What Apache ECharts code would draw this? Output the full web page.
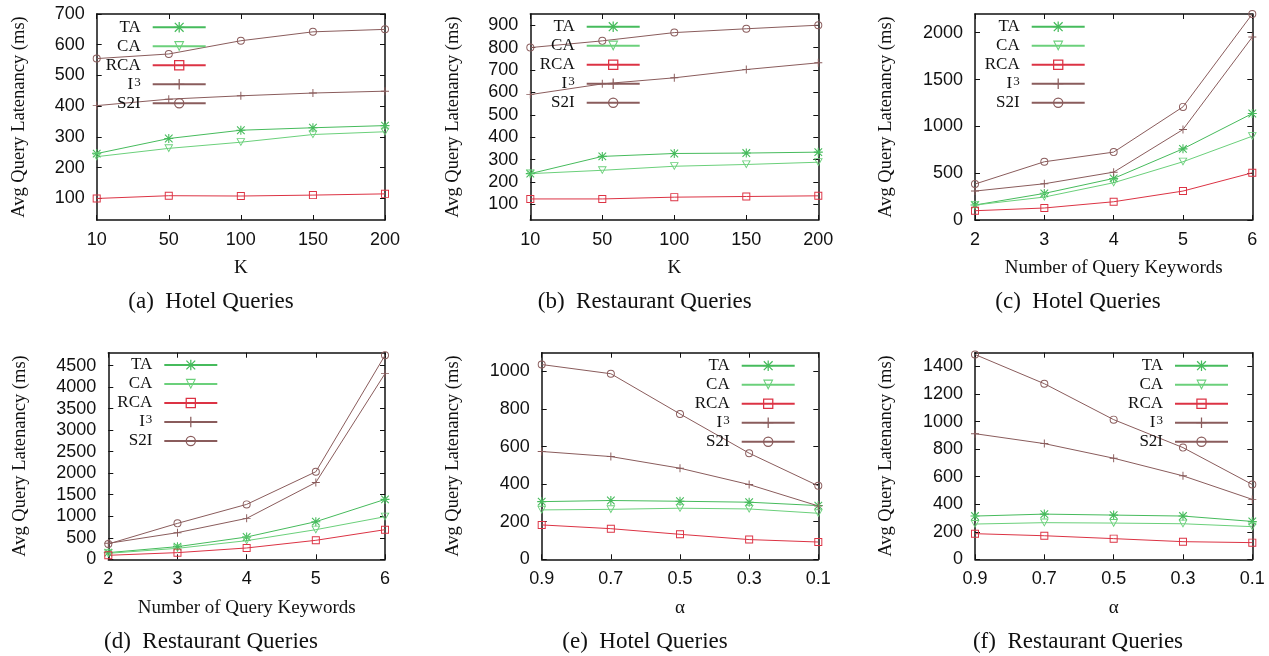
<!DOCTYPE html>
<html>
<head>
<meta charset="utf-8">
<script src="https://cdn.jsdelivr.net/npm/echarts@6/dist/echarts.min.js"></script>
<style>
html, body { margin: 0; padding: 0; background: #fff; }
#main { width: 1269px; height: 656px; }
</style>
</head>
<body>
<div id="main"></div>
<script>
// x categories
var kCats = ['10', '50', '100', '150', '200'];
var kwCats = ['2', '3', '4', '5', '6'];
var alphaCats = ['0.9', '0.7', '0.5', '0.3', '0.1'];

// (a) hotel, varying K
var hotelK_TA = [246, 295, 322, 330, 337];
var hotelK_CA = [236, 263, 283, 308, 317];
var hotelK_RCA = [100, 109, 108, 111, 115];
var hotelK_I3 = [402, 423, 434, 443, 449];
var hotelK_S2I = [555, 570, 613, 642, 650];

// (b) restaurant, varying K
var restK_TA = [237, 314, 327, 329, 333];
var restK_CA = [237, 252, 270, 278, 288];
var restK_RCA = [124, 124, 132, 135, 138];
var restK_I3 = [590, 638, 665, 702, 732];
var restK_S2I = [800, 830, 867, 884, 900];

// (c) hotel, number of keywords
var hotelKw_TA = [160, 284, 444, 760, 1137];
var hotelKw_CA = [160, 245, 398, 622, 895];
var hotelKw_RCA = [99, 128, 195, 309, 504];
var hotelKw_I3 = [309, 387, 511, 966, 1954];
var hotelKw_S2I = [384, 622, 725, 1208, 2200];

// (d) restaurant, number of keywords
var restKw_TA = [155, 294, 518, 874, 1392];
var restKw_CA = [139, 255, 433, 688, 990];
var restKw_RCA = [93, 155, 263, 441, 688];
var restKw_I3 = [371, 619, 951, 1786, 4314];
var restKw_S2I = [356, 835, 1276, 2034, 4740];

// (e) hotel, alpha
var hotelA_TA = [307, 313, 309, 304, 286];
var hotelA_CA = [263, 266, 272, 268, 245];
var hotelA_RCA = [183, 163, 133, 105, 92];
var hotelA_I3 = [574, 547, 485, 398, 284];
var hotelA_S2I = [1037, 988, 774, 565, 391];

// (f) restaurant, alpha
var restA_TA = [314, 328, 321, 314, 275];
var restA_CA = [256, 266, 263, 258, 237];
var restA_RCA = [186, 171, 150, 128, 121];
var restA_I3 = [912, 840, 734, 606, 435];
var restA_S2I = [1487, 1275, 1014, 811, 543];

// y tick labels
var ticksA = [100, 200, 300, 400, 500, 600, 700];
var ticksB = [100, 200, 300, 400, 500, 600, 700, 800, 900];
var ticksC = [0, 500, 1000, 1500, 2000];
var ticksD = [0, 500, 1000, 1500, 2000, 2500, 3000, 3500, 4000, 4500];
var ticksE = [0, 200, 400, 600, 800, 1000];
var ticksF = [0, 200, 400, 600, 800, 1000, 1200, 1400];

var names = ['TA', 'CA', 'RCA', 'I3', 'S2I'];
var colors = ['#46bb5c', '#6bd07b', '#dc3344', '#8a5c5c', '#8a5c5c'];

// marker shapes (outline shapes drawn as rings so lines show through)
var symStar = 'path://M4.4,0H5.6V10H4.4Z M0,4.4H10V5.6H0Z M0.35,1.2L1.2,0.35L9.65,8.8L8.8,9.65Z M8.8,0.35L9.65,1.2L1.2,9.65L0.35,8.8Z';
var symTri = 'path://M0,0L10,0L5,9Z M1.7,1L5,7L8.3,1Z';
var symRect = 'path://M0,0H10V10H0Z M1.2,1.2V8.8H8.8V1.2Z';
var symPlus = 'path://M4.4,0H5.6V10H4.4Z M0,4.4H10V5.6H0Z';
var symCircle = 'path://M5,0A5,5 0 1,1 5,10A5,5 0 1,1 5,0Z M5,1.2A3.8,3.8 0 1,0 5,8.8A3.8,3.8 0 1,0 5,1.2Z';
var symbols = [symStar, symTri, symRect, symPlus, symCircle];
var symSizes = [9, 9, 8, 8, 8];

var serif = 'Liberation Serif';
var sans = 'Liberation Sans';
var yName = 'Avg Query Latenancy (ms)';

var panels = [
    {left: 96.7, top: 14, right: 385, bottom: 220, cats: kCats, xName: 'K', min: 30, max: 700, ticks: ticksA,
        yGap: 68, legRight: 206.7, legRow: 27.3, caption: '(a)  Hotel Queries', capX: 211, capY: 301.7,
        data: [hotelK_TA, hotelK_CA, hotelK_RCA, hotelK_I3, hotelK_S2I]},
    {left: 530.3, top: 14, right: 818.3, bottom: 220, cats: kCats, xName: 'K', min: 30, max: 950, ticks: ticksB,
        yGap: 68, legRight: 640.7, legRow: 26.7, caption: '(b)  Restaurant Queries', capX: 644.7, capY: 301.7,
        data: [restK_TA, restK_CA, restK_RCA, restK_I3, restK_S2I]},
    {left: 975, top: 14, right: 1252.3, bottom: 220, cats: kwCats, xName: 'Number of Query Keywords', min: 0, max: 2200, ticks: ticksC,
        yGap: 79, legRight: 1085.7, legRow: 26.7, caption: '(c)  Hotel Queries', capX: 1078, capY: 301.7,
        data: [hotelKw_TA, hotelKw_CA, hotelKw_RCA, hotelKw_I3, hotelKw_S2I]},
    {left: 108.3, top: 352.7, right: 385, bottom: 559.3, cats: kwCats, xName: 'Number of Query Keywords', min: 0, max: 4800, ticks: ticksD,
        yGap: 79, legRight: 218.3, legRow: 365, caption: '(d)  Restaurant Queries', capX: 211, capY: 641.7,
        data: [restKw_TA, restKw_CA, restKw_RCA, restKw_I3, restKw_S2I]},
    {left: 541.7, top: 352.7, right: 818.3, bottom: 559.3, cats: alphaCats, xName: 'α', min: 0, max: 1100, ticks: ticksE,
        yGap: 79, legRight: 795.7, legRow: 365.7, caption: '(e)  Hotel Queries', capX: 645, capY: 641.7,
        data: [hotelA_TA, hotelA_CA, hotelA_RCA, hotelA_I3, hotelA_S2I]},
    {left: 975, top: 352.7, right: 1252.3, bottom: 559.3, cats: alphaCats, xName: 'α', min: 0, max: 1500, ticks: ticksF,
        yGap: 79, legRight: 1229, legRow: 365.7, caption: '(f)  Restaurant Queries', capX: 1078, capY: 641.7,
        data: [restA_TA, restA_CA, restA_RCA, restA_I3, restA_S2I]}
];

var boxLine = {show: true, onZero: false, lineStyle: {color: '#111', width: 1.5}};
var tickStyle = {color: '#111', width: 1};

// legend text: I3 gets a raised 3
function legendText(name) {
    if (name === 'I3') return '{n|I}{s|3}';
    return '{n|' + name + '}';
}

var grid = [], xAxis = [], yAxis = [], series = [], legend = [], graphic = [];

panels.forEach(function (p, i) {
    grid.push({left: p.left, top: p.top, width: p.right - p.left, height: p.bottom - p.top});

    xAxis.push({
        type: 'category', gridIndex: i, data: p.cats, boundaryGap: false, position: 'bottom',
        name: p.xName, nameLocation: 'middle', nameGap: 39,
        nameTextStyle: {fontFamily: serif, fontSize: 19, color: '#111'},
        axisLine: boxLine,
        axisTick: {show: true, inside: true, length: 5, interval: 0, lineStyle: tickStyle},
        axisLabel: {interval: 0, margin: 11, fontFamily: sans, fontSize: 18, color: '#111'},
        splitLine: {show: false}
    });
    xAxis.push({
        type: 'category', gridIndex: i, data: p.cats, boundaryGap: false, position: 'top',
        axisLine: boxLine,
        axisTick: {show: true, inside: true, length: 5, interval: 0, lineStyle: tickStyle},
        axisLabel: {show: false},
        splitLine: {show: false}
    });

    yAxis.push({
        type: 'value', gridIndex: i, min: p.min, max: p.max, position: 'left',
        name: yName, nameLocation: 'middle', nameGap: p.yGap,
        nameTextStyle: {fontFamily: serif, fontSize: 18.5, color: '#111'},
        axisLine: boxLine,
        axisTick: {show: true, inside: true, length: 5, customValues: p.ticks, lineStyle: tickStyle},
        axisLabel: {customValues: p.ticks, margin: 12, fontFamily: sans, fontSize: 18, color: '#111',
            formatter: function (v) { return String(v); }},
        splitLine: {show: false}
    });
    yAxis.push({
        type: 'value', gridIndex: i, min: p.min, max: p.max, position: 'right',
        axisLine: boxLine,
        axisTick: {show: true, inside: true, length: 5, customValues: p.ticks, lineStyle: tickStyle},
        axisLabel: {show: false},
        splitLine: {show: false}
    });

    names.forEach(function (n, k) {
        series.push({
            type: 'line', name: n, xAxisIndex: i * 2, yAxisIndex: i * 2,
            data: p.data[k],
            symbol: symbols[k], symbolSize: symSizes[k], symbolKeepAspect: true, showAllSymbol: true,
            lineStyle: {width: 1, color: colors[k]},
            itemStyle: {color: colors[k]},
            emphasis: {disabled: true},
            animation: false
        });
    });

    legend.push({
        data: names, orient: 'vertical', align: 'right',
        right: 1269 - p.legRight, top: p.legRow - 8.5,
        itemWidth: 53, itemHeight: 13, itemGap: 2, padding: 0,
        selectedMode: false,
        formatter: legendText,
        textStyle: {
            fontFamily: serif, fontSize: 17, color: '#111', padding: [0, 7, 0, 0],
            rich: {
                n: {fontFamily: serif, fontSize: 17, lineHeight: 17, color: '#111'},
                s: {fontFamily: serif, fontSize: 13, lineHeight: 8, color: '#111', verticalAlign: 'top', padding: [0, 0, 0, 1]}
            }
        }
    });

    graphic.push({
        type: 'text', x: p.capX, y: p.capY,
        style: {text: p.caption, fontFamily: serif, fontSize: 23, fill: '#111', align: 'center', verticalAlign: 'middle'}
    });
});

var chart = echarts.init(document.getElementById('main'));
chart.setOption({
    animation: false,
    backgroundColor: '#fff',
    grid: grid,
    xAxis: xAxis,
    yAxis: yAxis,
    legend: legend,
    series: series,
    graphic: graphic
});
</script>
</body>
</html>
